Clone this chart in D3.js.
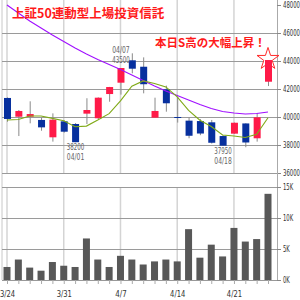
<!DOCTYPE html>
<html>
<head>
<meta charset="utf-8">
<script src="https://cdn.jsdelivr.net/npm/d3@7"></script>
<style>
  body { margin: 0; background: #fff; }
  svg { display: block; }
  .tick text { font-family: "Liberation Sans Narrow", "DejaVu Sans Condensed", sans-serif; font-size: 9px; fill: #333; }
</style>
</head>
<body>
<div id="chart"></div>
<script>
// datos del grafico
const dates = ["3/24","3/25","3/26","3/27","3/28","3/31","4/1","4/2","4/3","4/4","4/7","4/8","4/9","4/10","4/11","4/14","4/15","4/16","4/17","4/18","4/21","4/22","4/23","4/24"];
const opens  = [41360,40020,40020,39790,38550,39690,39500,40240,39910,41640,42450,44050,43590,39950,41980,40000,39740,39710,39620,38640,38810,39540,38480,42520];
const highs  = [41400,40500,41120,39950,40260,39760,39570,41340,41400,42150,43500,44550,44260,41380,42240,41450,39950,39850,39790,38700,39600,39550,40260,44070];
const lows   = [39660,38640,39550,39020,38240,38880,38200,39500,39840,41090,41600,43120,41690,39950,40380,39600,38480,38700,38100,37950,38800,37840,38240,42210];
const closes = [39860,40430,40210,39260,39810,38950,38200,40500,41380,42140,43500,43450,42340,40430,40980,39960,38660,38820,38160,37950,39590,38180,39980,44070];
const volumes = [2100,3300,2000,1500,2900,2300,2100,6700,3300,2100,3900,3300,2500,3000,3300,3000,8200,3600,5700,3800,8400,6200,6600,13900];
const ma5  = [39790,39820,40070,40070,39900,39730,39300,39350,39780,40240,41150,42200,42580,42390,42150,41440,40470,39770,39320,38710,38640,38540,38770,39950];
const ma25 = [48000,47430,46860,46360,45860,45390,44930,44500,44110,43750,43390,43000,42610,42210,41860,41540,41210,40890,40610,40390,40290,40210,40250,40360];
const weekTicks = ["3/24","3/31","4/7","4/14","4/21"];
const priceTicks = [36000,38000,40000,42000,44000,46000,48000];
const volTicks = [0,5000,10000,15000];
const marks = [
  { date: "4/7",  lines: ["04/07","43500"], above: true },
  { date: "4/1",  lines: ["38200","04/01"], above: false },
  { date: "4/18", lines: ["37950","04/18"], above: false }
];
const title = "上証50連動型上場投資信託";
const note = "本日S高の大幅上昇！";

const W = 300, H = 300;
const left = 2, right = 277;
const narrow = 3.4; // ancho aproximado por caracter (fuente estrecha)

const svg = d3.select("#chart").append("svg")
    .attr("width", W)
    .attr("height", H);
svg.append("rect").attr("width", W).attr("height", H).attr("fill", "#fff");

const x = d3.scalePoint().domain(dates).range([7, 268]);
const y = d3.scaleLinear().domain([36000, 48000]).range([173, 5]);
const yv = d3.scaleLinear().domain([0, 15000]).range([280, 187]);

// lineas verticales (inicio de semana)
svg.append("g").selectAll("line")
    .data(weekTicks)
    .enter().append("line")
    .attr("x1", d => x(d)).attr("x2", d => x(d))
    .attr("y1", 0).attr("y2", y(36000))
    .attr("stroke", "#d4d4d4").attr("stroke-width", 1.5);
svg.append("g").selectAll("line")
    .data(weekTicks)
    .enter().append("line")
    .attr("x1", d => x(d)).attr("x2", d => x(d))
    .attr("y1", yv(15000)).attr("y2", yv(0))
    .attr("stroke", "#d4d4d4").attr("stroke-width", 1.5);

// borde izquierdo
svg.append("line")
    .attr("x1", left).attr("x2", left).attr("y1", 0).attr("y2", yv(0))
    .attr("stroke", "#c8c8c8");

// lineas horizontales
svg.append("g").selectAll("line")
    .data(priceTicks.filter(d => d < 48000))
    .enter().append("line")
    .attr("x1", left).attr("x2", right)
    .attr("y1", d => Math.round(y(d)) + 0.5).attr("y2", d => Math.round(y(d)) + 0.5)
    .attr("stroke", "#9a9a9a");
svg.append("g").selectAll("line")
    .data(volTicks.filter(d => d > 0))
    .enter().append("line")
    .attr("x1", left).attr("x2", right)
    .attr("y1", d => Math.round(yv(d)) + 0.5).attr("y2", d => Math.round(yv(d)) + 0.5)
    .attr("stroke", "#9a9a9a");

// ejes
const yAxis = d3.axisRight(y).tickValues(priceTicks).tickFormat(d3.format("d"))
    .tickSize(4).tickSizeOuter(0).tickPadding(2);
const gy = svg.append("g").attr("transform", `translate(${right},0)`).call(yAxis);
gy.select(".domain").attr("stroke", "#aaa").attr("d", `M0.5,0V${y(36000)}`);
gy.selectAll(".tick line").attr("stroke", "#888");

const vAxis = d3.axisRight(yv).tickValues(volTicks).tickFormat(d => (d / 1000) + "K")
    .tickSize(4).tickSizeOuter(0).tickPadding(2);
const gv = svg.append("g").attr("transform", `translate(${right},0)`).call(vAxis);
gv.select(".domain").attr("stroke", "#aaa").attr("d", `M0.5,${y(36000)}V${yv(0)}`);
gv.selectAll(".tick line").attr("stroke", "#888");

// texto estrecho como en la imagen
svg.selectAll(".tick text")
    .attr("textLength", function() { return this.textContent.length * narrow; })
    .attr("lengthAdjust", "spacingAndGlyphs");

const xAxis = d3.axisBottom(x).tickSize(4).tickSizeOuter(0).tickPadding(7)
    .tickFormat(d => weekTicks.includes(d) ? d : "");
const gx = svg.append("g").attr("transform", `translate(0,${yv(0)})`).call(xAxis);
gx.select(".domain").attr("stroke", "#999").attr("d", `M${left},0.5H${right}`);
gx.selectAll(".tick line").attr("stroke", "#aaa");
gx.selectAll(".tick text")
    .filter(function() { return this.textContent.length > 0; })
    .attr("textLength", function() { return this.textContent.length * 3.8; })
    .attr("lengthAdjust", "spacingAndGlyphs");

// volumen
svg.append("g").selectAll("rect")
    .data(dates)
    .enter().append("rect")
    .attr("x", d => x(d) - 3.5)
    .attr("width", 7)
    .attr("y", (d, i) => yv(volumes[i]))
    .attr("height", (d, i) => yv(0) - yv(volumes[i]))
    .attr("fill", "#585858");

// estrella (ultimo dia, S高)
const last = dates.length - 1;
const star = d3.symbol().type(d3.symbolStar).size(150);
svg.append("path")
    .attr("d", star())
    .attr("transform", `translate(${x(dates[last])},${y(closes[last]) - 1})`)
    .attr("fill", "#fff")
    .attr("stroke", "#ff2a2a")
    .attr("stroke-width", 1);

// velas
const up = "#ff1a48", down = "#07309e";
const candles = svg.append("g").selectAll("g")
    .data(dates)
    .enter().append("g");
candles.append("line")
    .attr("x1", d => x(d) + 0.5).attr("x2", d => x(d) + 0.5)
    .attr("y1", (d, i) => y(highs[i])).attr("y2", (d, i) => y(lows[i]))
    .attr("stroke", "#8a8a8a");
candles.append("rect")
    .attr("x", d => x(d) - 3)
    .attr("width", 7)
    .attr("y", (d, i) => y(Math.max(opens[i], closes[i])))
    .attr("height", (d, i) => Math.max(1, Math.abs(y(opens[i]) - y(closes[i]))))
    .attr("fill", (d, i) => closes[i] >= opens[i] ? up : down);

// medias moviles
const line = d3.line().x((d, i) => x(dates[i])).y(d => y(d));
svg.append("path").datum(ma25)
    .attr("d", line).attr("fill", "none")
    .attr("stroke", "#a010ff").attr("stroke-width", 1.1);
svg.append("path").datum(ma5)
    .attr("d", line).attr("fill", "none")
    .attr("stroke", "#80aa18").attr("stroke-width", 1.1);

// etiquetas de maximos / minimos
marks.forEach(m => {
    const i = dates.indexOf(m.date);
    const base = m.above ? y(highs[i]) - 15 : y(lows[i]) + 8;
    m.lines.forEach((t, k) => {
        svg.append("text")
            .attr("x", x(m.date) + 0.5)
            .attr("y", base + k * 10)
            .attr("text-anchor", "middle")
            .attr("font-family", "'Liberation Sans Narrow', 'DejaVu Sans Condensed', sans-serif")
            .attr("font-size", 8.5)
            .attr("textLength", t.length * 3.5)
            .attr("lengthAdjust", "spacingAndGlyphs")
            .attr("fill", "#666")
            .text(t);
    });
});

// textos
svg.append("text")
    .attr("x", 12).attr("y", 18)
    .attr("font-family", "'Noto Sans CJK JP', sans-serif")
    .attr("font-size", 12.5)
    .attr("font-weight", "bold")
    .attr("fill", "#ff1a1a")
    .text(title);
svg.append("text")
    .attr("x", 155).attr("y", 46.5)
    .attr("font-family", "'Noto Sans CJK JP', sans-serif")
    .attr("font-size", 11.5)
    .attr("font-weight", "bold")
    .attr("fill", "#ff1a1a")
    .text(note);
</script>
</body>
</html>
